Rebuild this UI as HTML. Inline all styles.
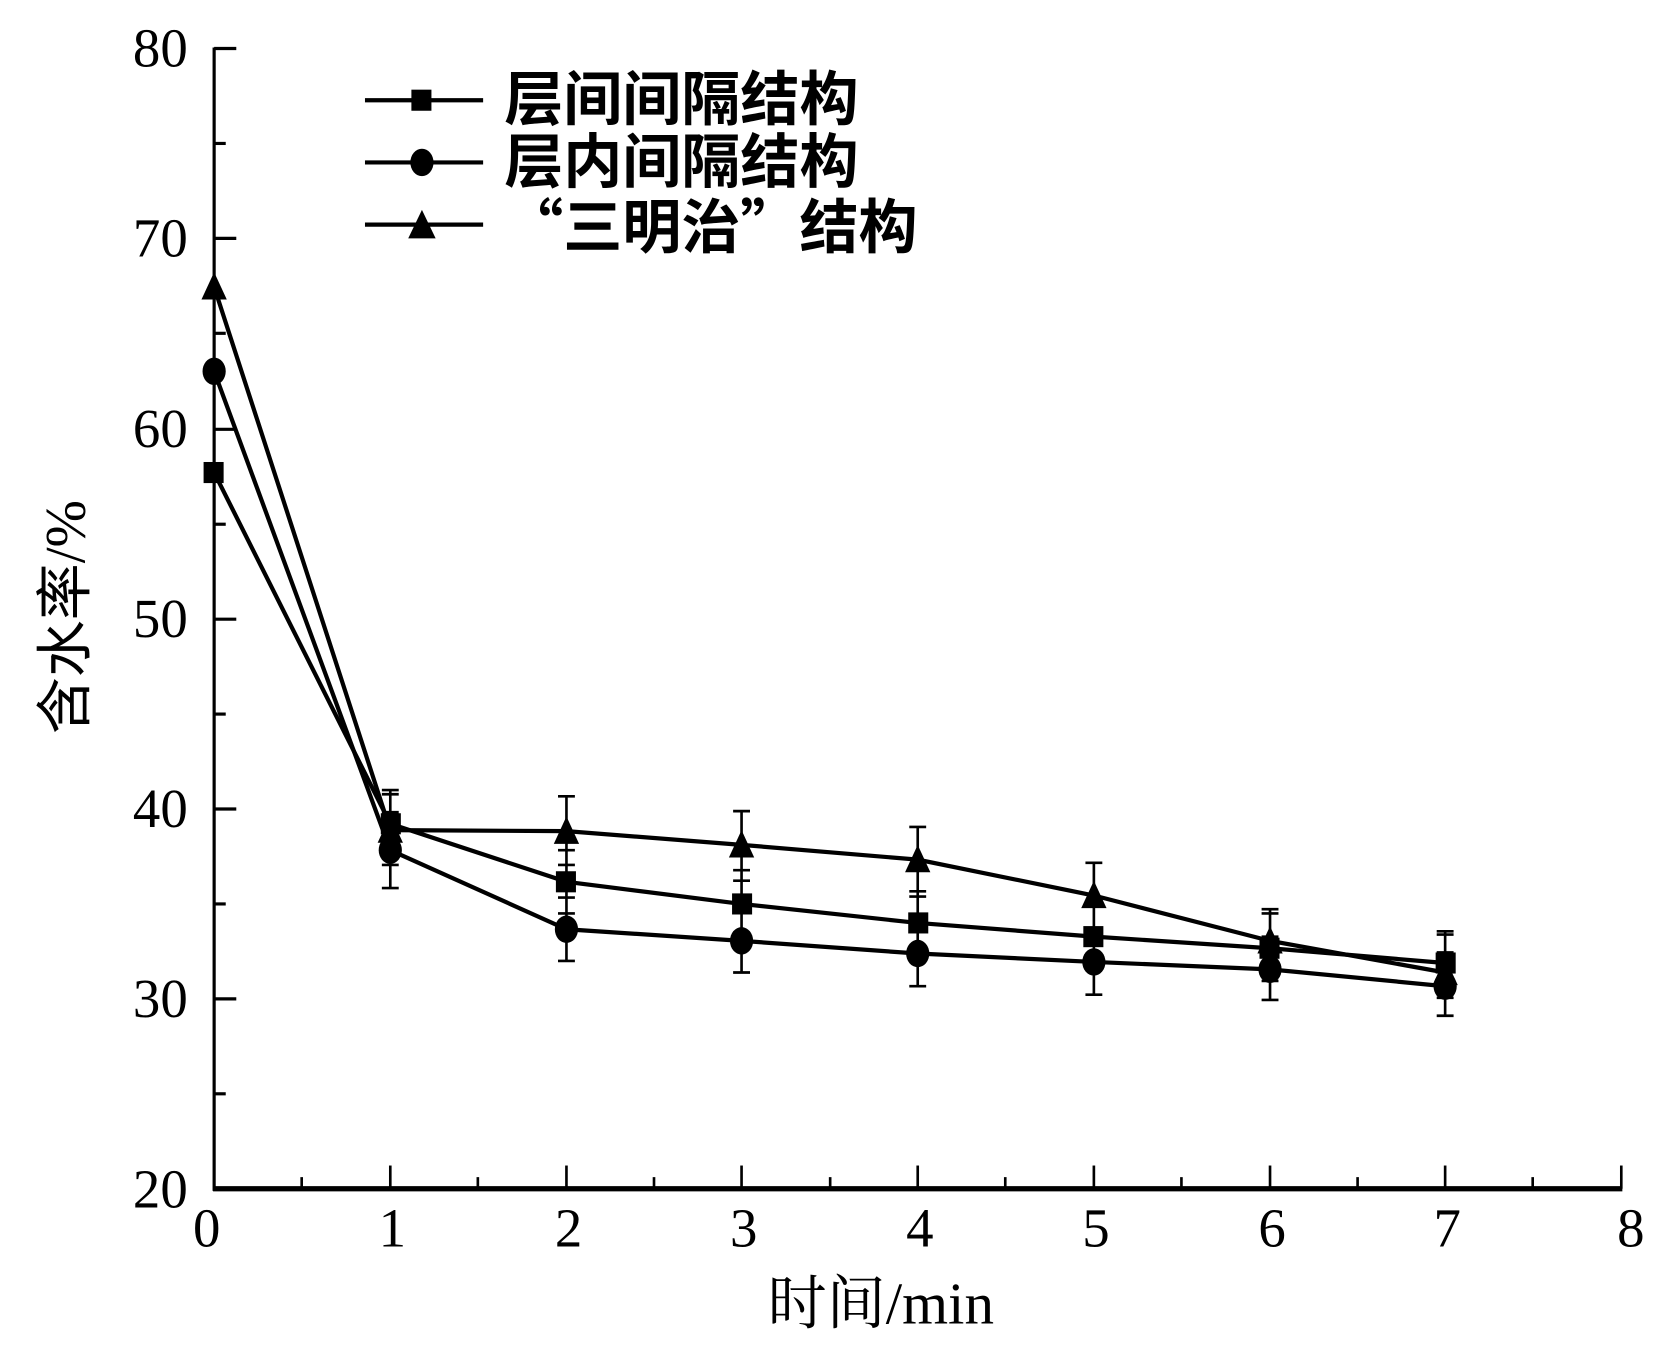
<!DOCTYPE html>
<html><head><meta charset="utf-8"><style>html,body{margin:0;padding:0;background:#fff}svg{display:block}</style></head>
<body>
<svg width="1654" height="1348" viewBox="0 0 1568 1278" preserveAspectRatio="none" xmlns="http://www.w3.org/2000/svg">
<g stroke="#000" fill="none">
<line x1="203" y1="45" x2="203" y2="1129" stroke-width="3"/>
<line x1="202" y1="1127" x2="1538" y2="1127" stroke-width="5"/>
<g stroke-width="3">
<line x1="203" y1="46" x2="224" y2="46"/><line x1="203" y1="226" x2="224" y2="226"/><line x1="203" y1="407" x2="224" y2="407"/><line x1="203" y1="587" x2="224" y2="587"/><line x1="203" y1="767" x2="224" y2="767"/><line x1="203" y1="947" x2="224" y2="947"/>
<line x1="203" y1="136" x2="214" y2="136"/><line x1="203" y1="316" x2="214" y2="316"/><line x1="203" y1="497" x2="214" y2="497"/><line x1="203" y1="677" x2="214" y2="677"/><line x1="203" y1="857" x2="214" y2="857"/><line x1="203" y1="1037" x2="214" y2="1037"/>
</g>
<g stroke-width="2.5">
<line x1="370" y1="1127" x2="370" y2="1105"/><line x1="537" y1="1127" x2="537" y2="1105"/><line x1="703" y1="1127" x2="703" y2="1105"/><line x1="870" y1="1127" x2="870" y2="1105"/><line x1="1037" y1="1127" x2="1037" y2="1105"/><line x1="1204" y1="1127" x2="1204" y2="1105"/><line x1="1370" y1="1127" x2="1370" y2="1105"/><line x1="1537" y1="1127" x2="1537" y2="1105"/>
<line x1="286" y1="1127" x2="286" y2="1116"/><line x1="453" y1="1127" x2="453" y2="1116"/><line x1="620" y1="1127" x2="620" y2="1116"/><line x1="787" y1="1127" x2="787" y2="1116"/><line x1="953" y1="1127" x2="953" y2="1116"/><line x1="1120" y1="1127" x2="1120" y2="1116"/><line x1="1287" y1="1127" x2="1287" y2="1116"/><line x1="1453" y1="1127" x2="1453" y2="1116"/>
</g>
<g stroke-width="2.5">
<path d="M370 749V813M362 749H378M362 813H378 M370 770V842M362 770H378M362 842H378 M370 753V820M362 753H378M362 820H378"/>
<path d="M537 806V866M529 806H545M529 866H545 M537 851V911M529 851H545M529 911H545 M537 755V820M529 755H545M529 820H545"/>
<path d="M703 825V890M695 825H711M695 890H711 M703 862V922M695 862H711M695 922H711 M703 769V835M695 769H711M695 835H711"/>
<path d="M870 845V905M862 845H878M862 905H878 M870 875V935M862 875H878M862 935H878 M870 784V850M862 784H878M862 850H878"/>
<path d="M1037 857V918M1029 857H1045M1029 918H1045 M1037 883V943M1029 883H1045M1029 943H1045 M1037 818V882M1029 818H1045M1029 882H1045"/>
<path d="M1204 866V930M1196 866H1212M1196 930H1212 M1204 888V948M1196 888H1212M1196 948H1212 M1204 862V922M1196 862H1212M1196 922H1212"/>
<path d="M1370 883V943M1362 883H1378M1362 943H1378 M1370 903V963M1362 903H1378M1362 963H1378 M1370 886V946M1362 886H1378M1362 946H1378"/>
</g>
<g stroke-width="4">
<polyline points="203,448 370,781 537,836 703,857 870,875 1037,888 1204,899 1370,913"/>
<polyline points="203,352 370,806 537,881 703,892 870,904 1037,912 1204,919 1370,935"/>
<polyline points="203,272 370,787 537,788 703,801 870,815 1037,849 1204,892 1370,922"/>
<line x1="346" y1="95" x2="458" y2="95"/><line x1="346" y1="154" x2="458" y2="154"/><line x1="346" y1="213" x2="458" y2="213"/>
</g>
</g>
<g fill="#000">
<rect x="193" y="438" width="19" height="20"/><rect x="361" y="771" width="19" height="20"/><rect x="527" y="826" width="19" height="20"/><rect x="694" y="847" width="19" height="20"/><rect x="861" y="865" width="19" height="20"/><rect x="1027" y="878" width="19" height="20"/><rect x="1194" y="889" width="19" height="20"/><rect x="1361" y="903" width="19" height="20"/>
<rect x="390" y="85" width="19" height="20"/>
<ellipse cx="203" cy="352" rx="11" ry="13"/><ellipse cx="370" cy="806" rx="11" ry="13"/><ellipse cx="537" cy="881" rx="11" ry="13"/><ellipse cx="703" cy="892" rx="11" ry="13"/><ellipse cx="870" cy="904" rx="11" ry="13"/><ellipse cx="1037" cy="912" rx="11" ry="13"/><ellipse cx="1204" cy="919" rx="11" ry="13"/><ellipse cx="1370" cy="935" rx="11" ry="13"/>
<ellipse cx="400" cy="154" rx="11" ry="13"/>
<polygon points="203,258 215,284 191,284"/><polygon points="370,773 382,799 358,799"/><polygon points="537,774 549,800 525,800"/><polygon points="703,787 715,813 691,813"/><polygon points="870,801 882,827 858,827"/><polygon points="1037,835 1049,861 1025,861"/><polygon points="1204,878 1216,904 1192,904"/><polygon points="1370,908 1382,934 1358,934"/>
<polygon points="400,199 413,226 387,226"/>
</g>
<g font-family="Liberation Serif, serif" font-size="52" fill="#000">
<g text-anchor="end"><text x="178" y="63">80</text><text x="178" y="243">70</text><text x="178" y="424">60</text><text x="178" y="604">50</text><text x="178" y="784">40</text><text x="178" y="964">30</text><text x="178" y="1145">20</text></g>
<g text-anchor="middle"><text x="196" y="1182">0</text><text x="372" y="1182">1</text><text x="539" y="1182">2</text><text x="705" y="1182">3</text><text x="872" y="1182">4</text><text x="1039" y="1182">5</text><text x="1206" y="1182">6</text><text x="1372" y="1182">7</text><text x="1546" y="1182">8</text></g>
<text x="835" y="1255" text-anchor="middle" font-size="56"><tspan font-family="Noto Serif CJK SC, Noto Sans CJK SC, serif">时间</tspan>/min</text>
<text transform="translate(80,585) rotate(-90)" text-anchor="middle" font-size="54"><tspan font-family="Noto Sans CJK SC, sans-serif">含水率</tspan>/%</text>
<g font-family="Noto Sans CJK SC, sans-serif" font-size="56" font-weight="bold"><text x="478" y="114">层间间隔结构</text><text x="478" y="173">层内间隔结构</text><text x="478" y="235">“三明治”结构</text></g>
</g>
</svg>
</body></html>
